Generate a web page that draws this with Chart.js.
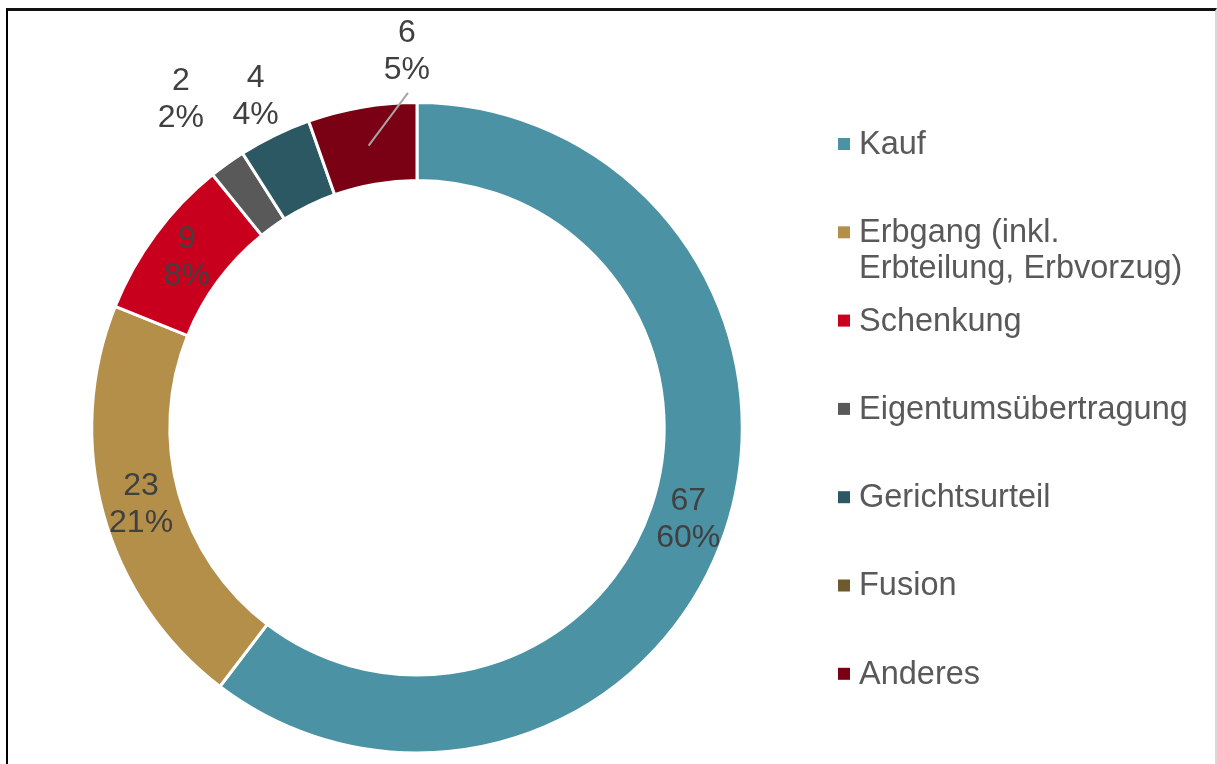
<!DOCTYPE html>
<html>
<head>
    <meta charset="utf-8">
    <title>Eigentumserwerb</title>
    <script src="https://cdn.jsdelivr.net/npm/chart.js@4.4.0/dist/chart.umd.min.js"></script>
    <style>
        html, body { margin: 0; padding: 0; background: #fff; overflow: hidden; }
        #wrap { position: relative; width: 1217px; height: 764px; }
        #frame { position: absolute; left: 6px; top: 8px; width: 1207px; height: 780px;
                 border-left: 2px solid #000; border-top: 3px solid #111; border-right: 2px solid #d9d9d9; }
        #chartBox { position: absolute; left: 0; top: 0; width: 1217px; height: 764px; }
    </style>
</head>
<body>
<div id="wrap">
  <div id="frame"></div>
  <div id="chartBox"><canvas id="donut"></canvas></div>
</div>
<script>
// data
const categories = ['Kauf', 'Erbgang (inkl.\nErbteilung, Erbvorzug)', 'Schenkung', 'Eigentumsübertragung', 'Gerichtsurteil', 'Fusion', 'Anderes'];
const counts = [67, 23, 9, 2, 4, 0, 6];
const colors = ['#4B92A4', '#B38F4A', '#C8001E', '#595959', '#2C5863', '#6E5A2E', '#7A0014'];

// label placement for the small slices (outside the ring)
const outsideLabels = {
    3: { r: 405, dAngle: 0 },
    4: { r: 369, dAngle: 0 },
    6: { r: 377, dAngle: 8.2, leader: true }
};

const total = counts.reduce((a, b) => a + b, 0);
const FONT = '"Liberation Sans", Arial, sans-serif';

const labelPlugin = {
    id: 'sliceLabels',
    afterDatasetsDraw(chart) {
        const ctx = chart.ctx;
        const meta = chart.getDatasetMeta(0);
        ctx.save();
        ctx.font = '32px ' + FONT;
        ctx.textAlign = 'center';
        ctx.textBaseline = 'middle';
        meta.data.forEach(function(arc, i) {
            const v = counts[i];
            if (!v) return;
            const p = arc.getProps(['x', 'y', 'startAngle', 'endAngle', 'innerRadius', 'outerRadius'], true);
            const mid = (p.startAngle + p.endAngle) / 2;
            const rMid = (p.innerRadius + p.outerRadius) / 2;
            let lx = p.x + Math.cos(mid) * rMid;
            let ly = p.y + Math.sin(mid) * rMid;
            const o = outsideLabels[i];
            if (o) {
                const a = mid + o.dAngle * Math.PI / 180;
                const cx = lx, cy = ly;
                lx = p.x + Math.cos(a) * o.r;
                ly = p.y + Math.sin(a) * o.r;
                if (o.leader) {
                    ctx.strokeStyle = '#A6A6A6';
                    ctx.lineWidth = 2;
                    ctx.beginPath();
                    ctx.moveTo(cx, cy);
                    ctx.lineTo(lx + 1, ly + 42);
                    ctx.stroke();
                }
            }
            ctx.fillStyle = '#404040';
            ctx.fillText(String(v), lx, ly - 18);
            ctx.fillText(Math.round(v / total * 100) + '%', lx, ly + 19);
        });
        ctx.restore();
    }
};

const legendPlugin = {
    id: 'sideLegend',
    afterDraw(chart) {
        const ctx = chart.ctx;
        ctx.save();
        ctx.font = '32.5px ' + FONT;
        ctx.textAlign = 'left';
        ctx.textBaseline = 'middle';
        categories.forEach(function(c, i) {
            const y = 144 + i * 88.3;
            ctx.fillStyle = colors[i];
            ctx.fillRect(838, y - 6, 12, 12);
            ctx.fillStyle = '#595959';
            c.split('\n').forEach(function(line, k) {
                ctx.fillText(line, 859, y + 1 + k * 36);
            });
        });
        ctx.restore();
    }
};

new Chart(document.getElementById('donut'), {
    type: 'doughnut',
    data: {
        labels: categories,
        datasets: [{
            data: counts,
            backgroundColor: colors,
            borderColor: '#ffffff',
            borderWidth: 3
        }]
    },
    options: {
        responsive: true,
        maintainAspectRatio: false,
        animation: false,
        cutout: '76%',
        layout: { padding: { left: 90, top: 101, right: 473, bottom: 9.5 } },
        plugins: {
            legend: { display: false },
            tooltip: { enabled: false }
        }
    },
    plugins: [labelPlugin, legendPlugin]
});
</script>
</body>
</html>
